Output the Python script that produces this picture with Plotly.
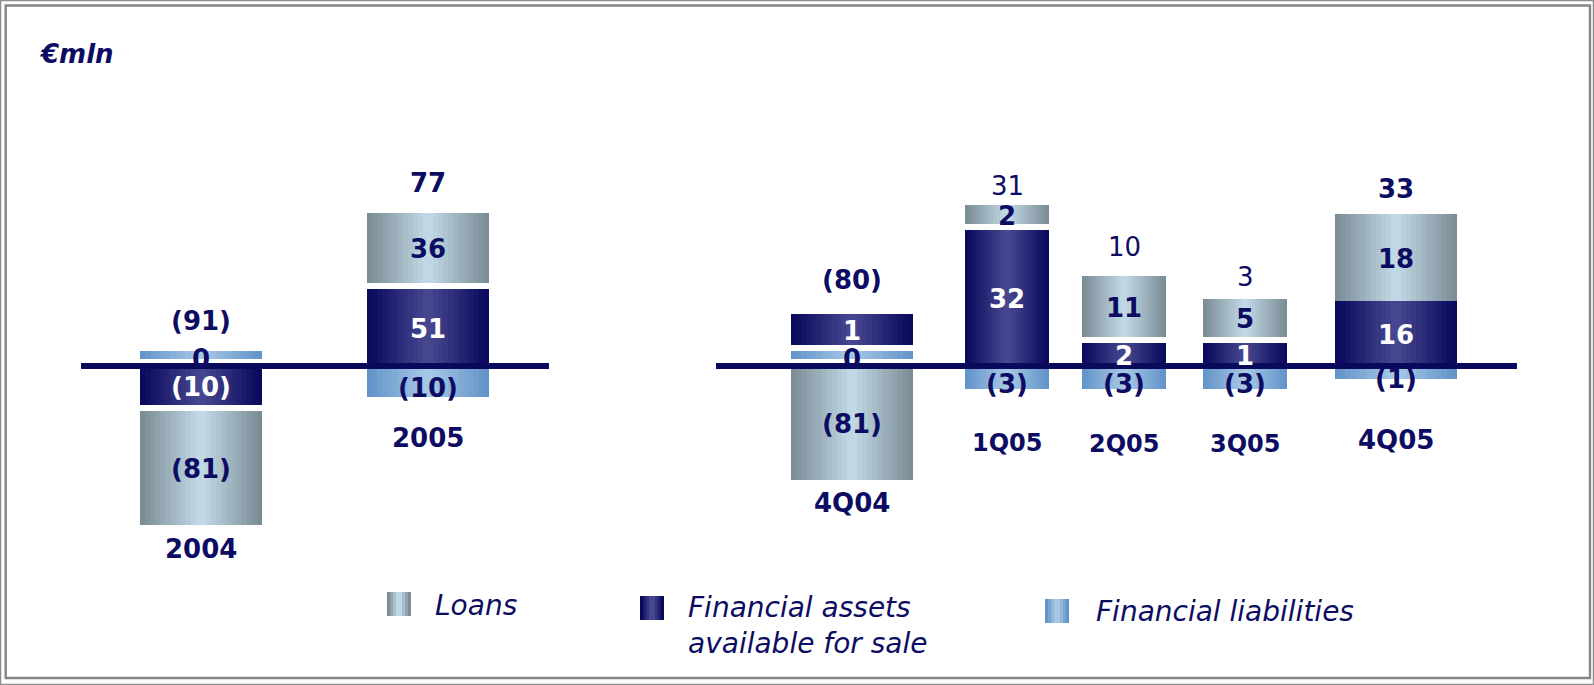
import plotly.graph_objects as go

# ---------------- data ----------------
periods = ["2004", "2005", "4Q04", "1Q05", "2Q05", "3Q05", "4Q05"]
loans = [-81, 36, -81, 2, 11, 5, 18]
afs = [-10, 51, 1, 32, 2, 1, 16]
liab = [0, -10, 0, -3, -3, -3, -1]
totals = [-91, 77, -80, 31, 10, 3, 33]
# segment heights as drawn in the (schematic, not-to-scale) reference, in px
loans_px = [-114, 70, -114, 19, 61, 38, 87]
afs_px = [-39, 77, 31, 136, 23, 23, 65]
liab_px = [8, -31, 8, -23, -23, -23, -13]
series_names = ["Loans", "Financial assets<br>available for sale", "Financial liabilities"]
unit_label = "€mln"

# ---------------- layout constants ----------------
W, H = 1594, 685
AXIS_Y = 366                      # px from top of the page
bar_x = [201, 428, 852, 1007, 1124, 1245, 1396]
bar_w = [122, 122, 122, 84, 84, 84, 122]
stack_gap = [6, 6, 6, 6, 6, 6, 0]
zero_lift = 7
total_gap = [30, 30, 34, 19, 29, 22, 25]
total_bold = [True, True, True, False, False, False, True]
cat_gap = [24, 41, 23, 54, 55, 55, 61]
cat_size = [26, 26, 26, 24, 24, 24, 26]
axis_segments = [(81, 549), (716, 1517)]

NAVY = "#0c0c62"
FONT = "DejaVu Sans"
grad = {
    "loans": ("#7c8d96", "#c0d8e5"),
    "afs": ("#0a0a5e", "#46468f"),
    "liab": ("#6395ca", "#a6c6e5"),
}
label_color = {"loans": NAVY, "afs": "white", "liab": NAVY}


def hex2rgb(h):
    h = h.lstrip("#")
    return tuple(int(h[i:i + 2], 16) for i in (0, 2, 4))


def lerp(c0, c1, t):
    a, b = hex2rgb(c0), hex2rgb(c1)
    return "rgb(%d,%d,%d)" % tuple(round(a[j] + (b[j] - a[j]) * t) for j in range(3))


def fmt(v):
    return "(%d)" % abs(v) if v < 0 else str(v)


def py(p):  # page px from top -> y data units
    return AXIS_Y - p


# ---------------- stacking (computed from data) ----------------
order = [("liab", liab, liab_px), ("afs", afs, afs_px), ("loans", loans, loans_px)]
segs = {k: [] for k, _, _ in order}
n = len(periods)
for i in range(n):
    pos, neg = 0.0, 0.0
    first_pos, first_neg = True, True
    for name, vals, px in order:
        h = px[i]
        if vals[i] == 0:
            lo = pos + zero_lift
            hi = lo + h
            pos = hi
            first_pos = False
        elif h > 0:
            lo = pos + (0 if first_pos else stack_gap[i])
            hi = lo + h
            pos = hi
            first_pos = False
        else:
            hi = neg - (0 if first_neg else stack_gap[i])
            lo = hi + h
            neg = lo
            first_neg = False
        segs[name].append((lo, hi))

fig = go.Figure()

# gradient-filled bars: nested overlay bars, lighter toward the centre
N = 12
for name, vals, px in order:
    edge, centre = grad[name]
    for k in range(N):
        t = k / (N - 1)
        fig.add_trace(go.Bar(
            x=bar_x,
            y=[hi - lo for lo, hi in segs[name]],
            base=[lo for lo, hi in segs[name]],
            width=[w * (N - k) / N for w in bar_w],
            marker=dict(color=lerp(edge, centre, t), line=dict(width=0)),
            opacity=1,
            showlegend=False,
            hoverinfo="skip",
            name=name,
        ))

shapes = []
# axis lines
for x0, x1 in axis_segments:
    shapes.append(dict(type="line", xref="x", yref="y", x0=x0, x1=x1, y0=0, y1=0,
                       line=dict(color="#0a0a5c", width=6), layer="above"))
# frame
shapes.append(dict(type="rect", xref="x", yref="y", x0=0.6, x1=W - 0.6, y0=py(H - 0.6), y1=py(0.6),
                   line=dict(color="#8c8c8c", width=1.3), layer="above"))
shapes.append(dict(type="rect", xref="x", yref="y", x0=5.7, x1=1590, y0=py(678), y1=py(5.5),
                   line=dict(color="#858585", width=2.4), layer="above"))

annotations = []
# segment labels
for name, vals, px in order:
    for i in range(n):
        lo, hi = segs[name][i]
        shift = -1
        if name == "liab":
            shift = -4 if vals[i] == 0 else -6
        annotations.append(dict(
            x=bar_x[i], y=(lo + hi) / 2, xref="x", yref="y", text=fmt(vals[i]),
            showarrow=False, yshift=shift, yanchor="middle",
            font=dict(family=FONT, size=26, color=label_color[name], weight="bold")))

# totals
for i in range(n):
    top = max(hi for name in segs for lo, hi in [segs[name][i]])
    annotations.append(dict(
        x=bar_x[i], y=top + total_gap[i], xref="x", yref="y", text=fmt(totals[i]),
        showarrow=False, yanchor="middle",
        font=dict(family=FONT, size=26, color=NAVY, weight="bold" if total_bold[i] else "normal")))

# category labels
for i in range(n):
    bottom = min(lo for name in segs for lo, hi in [segs[name][i]])
    annotations.append(dict(
        x=bar_x[i], y=bottom - cat_gap[i], xref="x", yref="y", text=periods[i],
        showarrow=False, yanchor="middle",
        font=dict(family=FONT, size=cat_size[i], color=NAVY, weight="bold")))

# unit label
annotations.append(dict(x=37, y=py(54), xref="x", yref="y", text=unit_label, showarrow=False,
                        xanchor="left", yanchor="middle",
                        font=dict(family=FONT, size=26, color=NAVY, weight="bold", style="italic")))

# legend (custom)
legend_keys = ["loans", "afs", "liab"]
key_x = [387, 640, 1045]
key_top = [592, 596, 599]
key_size = 24
text_x = [433, 686, 1094]
text_y = [605, 625, 611]
for j, name in enumerate(legend_keys):
    edge, centre = grad[name]
    steps = 4
    for k in range(steps):
        inset = key_size * k / (2 * steps)
        shapes.append(dict(type="rect", xref="x", yref="y",
                           x0=key_x[j] + inset, x1=key_x[j] + key_size - inset,
                           y0=py(key_top[j] + key_size), y1=py(key_top[j]),
                           fillcolor=lerp(edge, centre, k / (steps - 1)), line=dict(width=0),
                           layer="above"))
    annotations.append(dict(x=text_x[j], y=py(text_y[j]), xref="x", yref="y", text=series_names[j],
                            showarrow=False, xanchor="left", yanchor="middle", align="left",
                            font=dict(family=FONT, size=28, color=NAVY, style="italic")))

fig.update_layout(
    width=W, height=H,
    margin=dict(l=0, r=0, t=0, b=0),
    paper_bgcolor="white", plot_bgcolor="white",
    barmode="overlay",
    showlegend=False,
    xaxis=dict(range=[0, W], visible=False, fixedrange=True),
    yaxis=dict(range=[AXIS_Y - H, AXIS_Y], visible=False, fixedrange=True),
    shapes=shapes,
    annotations=annotations,
)

fig.write_html("out.html",
               config={"displayModeBar": False, "staticPlot": True},
               post_script="document.body.style.margin='0px';document.body.style.overflow='hidden';")
